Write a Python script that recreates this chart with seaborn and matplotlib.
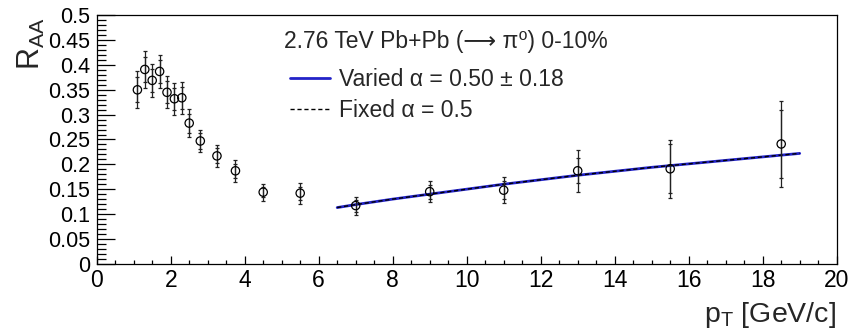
import matplotlib
matplotlib.use("Agg")
import numpy as np
import pandas as pd
import seaborn as sns
import matplotlib.pyplot as plt
from matplotlib.ticker import MultipleLocator, FuncFormatter

# ---- data ----
pt = [1.1, 1.3, 1.5, 1.7, 1.9, 2.1, 2.3, 2.5, 2.8, 3.25, 3.75, 4.5, 5.5,
      7.0, 9.0, 11.0, 13.0, 15.5, 18.5]
raa = [0.350, 0.391, 0.369, 0.387, 0.345, 0.332, 0.334, 0.283, 0.247, 0.217,
       0.187, 0.144, 0.142, 0.117, 0.145, 0.148, 0.187, 0.191, 0.241]
err_stat = [0.025, 0.026, 0.023, 0.024, 0.022, 0.022, 0.022, 0.019, 0.016, 0.015,
            0.014, 0.010, 0.013, 0.012, 0.014, 0.018, 0.025, 0.049, 0.069]
err_tot = [0.037, 0.037, 0.033, 0.034, 0.032, 0.032, 0.032, 0.028, 0.023, 0.022,
           0.022, 0.017, 0.021, 0.018, 0.021, 0.026, 0.042, 0.058, 0.087]

curve_pt = [6.5, 7, 8, 9, 10, 11, 12, 13, 14, 15, 16, 17, 18, 19]
curve_varied = [0.113, 0.119, 0.130, 0.140, 0.150, 0.160, 0.169, 0.178, 0.186,
                0.194, 0.201, 0.208, 0.215, 0.222]
curve_fixed = [0.113, 0.119, 0.130, 0.140, 0.150, 0.160, 0.169, 0.178, 0.186,
               0.194, 0.201, 0.208, 0.215, 0.222]

header = "2.76 TeV Pb+Pb (\u27f6 \u03c0\u2070) 0-10%"
label_varied = "Varied \u03b1 = 0.50 \u00b1 0.18"
label_fixed = "Fixed \u03b1 = 0.5"

pts = pd.DataFrame({"pt": pt, "raa": raa, "stat": err_stat, "tot": err_tot})
curves = pd.DataFrame({"pt": curve_pt, "varied": curve_varied, "fixed": curve_fixed})

sns.set_theme(style="ticks")
plt.rcParams['font.family'] = ['Liberation Sans', 'DejaVu Sans']
plt.rcParams['mathtext.fontset'] = 'custom'
plt.rcParams['mathtext.rm'] = 'Liberation Sans'
plt.rcParams['mathtext.it'] = 'Liberation Sans:italic'
plt.rcParams['mathtext.sf'] = 'Liberation Sans'
plt.rcParams['mathtext.bf'] = 'Liberation Sans:bold'

W, H = 850, 330
fig = plt.figure(figsize=(W / 100, H / 100), dpi=100)
fig.patch.set_facecolor("white")
x0, x1, ytop, ybot = 96.7, 836.7, 15.3, 263.7
ax = fig.add_axes([x0 / W, 1 - ybot / H, (x1 - x0) / W, (ybot - ytop) / H])
ax.set_facecolor("white")

# curves
sns.lineplot(data=curves, x="pt", y="varied", ax=ax, color="#2323c8", lw=2.0,
             label=label_varied, zorder=3)
sns.lineplot(data=curves, x="pt", y="fixed", ax=ax, color="black", lw=1.0,
             dashes=False, label=label_fixed, zorder=4)
ax.get_lines()[-1].set_dashes([3, 2])

# error bars (total and statistical)
ax.errorbar(pts["pt"], pts["raa"], yerr=pts["tot"], fmt="none", ecolor="#222222",
            elinewidth=0.9, capsize=1.6, capthick=0.9, zorder=5)
ax.errorbar(pts["pt"], pts["raa"], yerr=pts["stat"], fmt="none", ecolor="#222222",
            elinewidth=0.9, capsize=1.6, capthick=0.9, zorder=5)
sns.scatterplot(data=pts, x="pt", y="raa", ax=ax, marker="o", s=36,
                facecolor="none", edgecolor="black", linewidth=0.9, zorder=6,
                legend=False)

ax.set_xlim(0, 20)
ax.set_ylim(0, 0.5)
ax.xaxis.set_major_locator(MultipleLocator(2))
ax.xaxis.set_minor_locator(MultipleLocator(0.5))
ax.yaxis.set_major_locator(MultipleLocator(0.05))
ax.yaxis.set_minor_locator(MultipleLocator(0.01))
ax.yaxis.set_major_formatter(FuncFormatter(lambda v, p: f"{v:g}"))
ax.xaxis.set_major_formatter(FuncFormatter(lambda v, p: f"{v:g}"))
ax.tick_params(axis="both", which="both", direction="in", top=False, right=False,
               colors="black", width=0.9)
ax.tick_params(axis="y", which="major", length=13, pad=4.5, labelsize=15.5)
ax.tick_params(axis="y", which="minor", length=6.5)
ax.tick_params(axis="x", which="major", length=5.5, pad=3.5, labelsize=16.5)
ax.tick_params(axis="x", which="minor", length=3)
for s in ax.spines.values():
    s.set_color("black")
    s.set_linewidth(0.9)
ax.set_xlabel("")
ax.set_ylabel("")

fig.text(31 / W, 1 - 17 / H, r"R$_{\rm AA}$", rotation=90, ha="center", va="top",
         fontsize=22)
fig.text(836 / W, 1 - 322 / H, r"p$_{\rm T}$ [GeV/c]", ha="right", va="baseline",
         fontsize=20.5)

fig.text(284 / W, 1 - 48 / H, header, ha="left", va="baseline", fontsize=16.5)
handles, labels = ax.get_legend_handles_labels()
leg = ax.legend(handles, labels, loc="upper left",
                bbox_to_anchor=(290 / W, 1 - 68 / H), bbox_transform=fig.transFigure,
                frameon=False, fontsize=16.5, handlelength=1.75, handletextpad=0.38,
                borderpad=0, borderaxespad=0, labelspacing=0.33)

fig.savefig("out.png", dpi=100, facecolor="white")
